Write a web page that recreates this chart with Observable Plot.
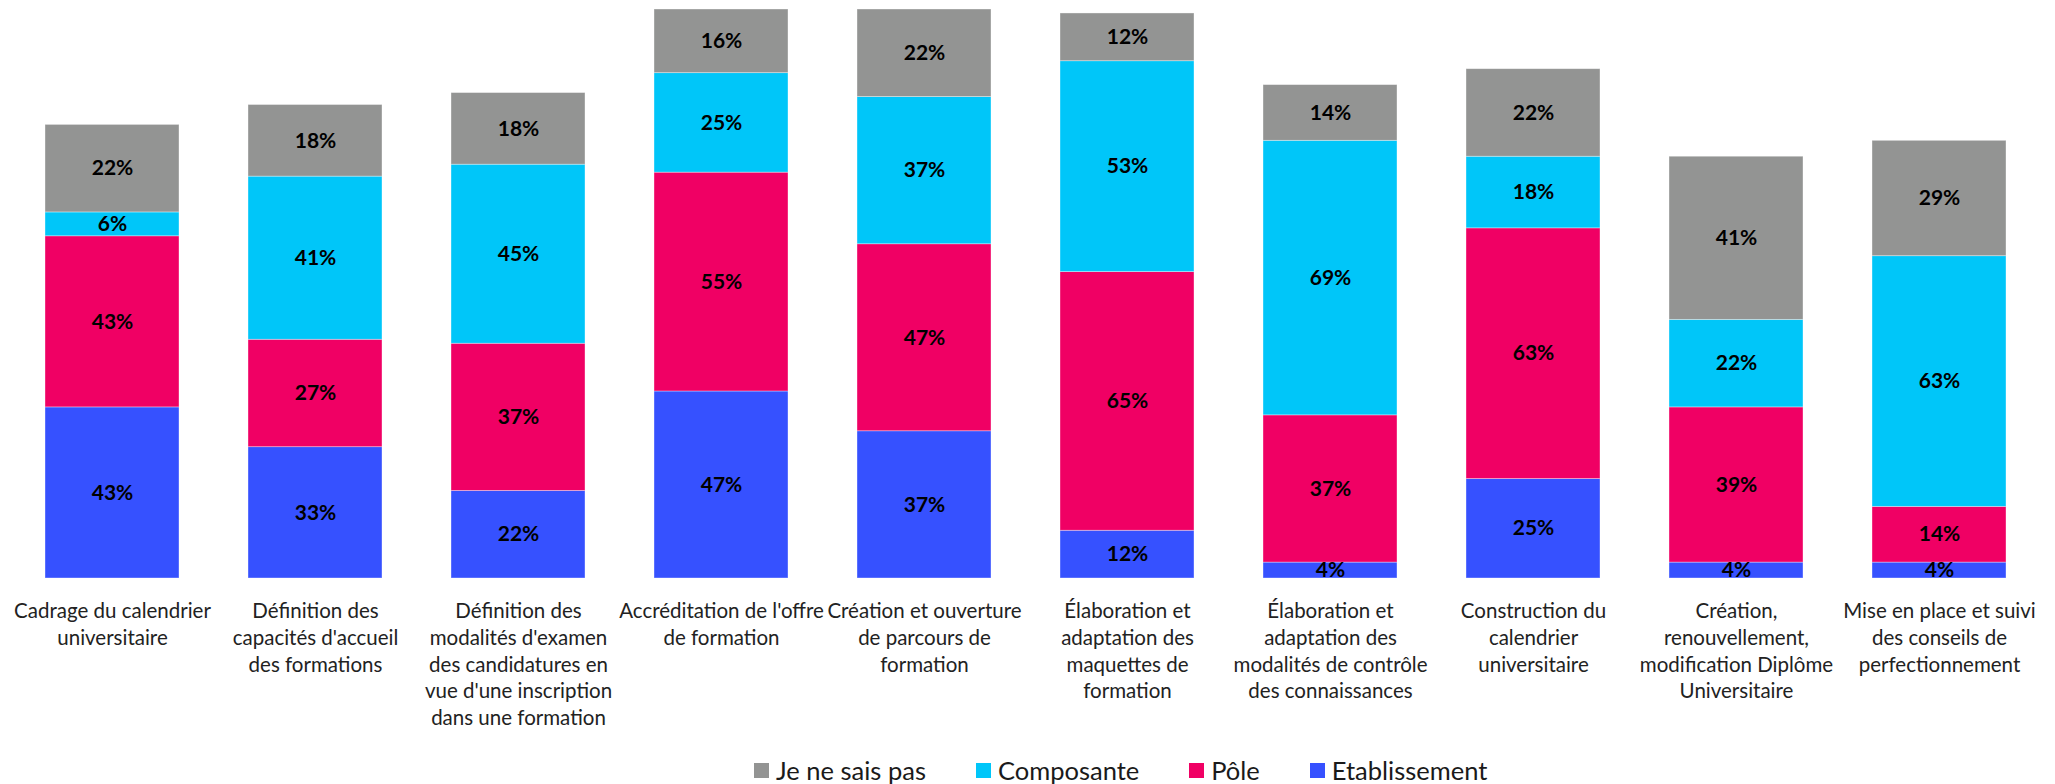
<!DOCTYPE html>
<html>
<head>
<meta charset="utf-8">
<script src="https://cdn.jsdelivr.net/npm/d3@7"></script>
<script src="https://cdn.jsdelivr.net/npm/@observablehq/plot@0.6"></script>
<style>
  html, body { margin: 0; padding: 0; background: #fff; }
  body { width: 2055px; height: 784px; position: relative; overflow: hidden; font-family: Lato, sans-serif; }
  #legend { position: absolute; left: 754px; top: 758px; height: 24px; display: flex; align-items: center; font-size: 25.5px; color: #1a1a1a; }
  #legend .item { display: flex; align-items: center; margin-right: 50px; }
  #legend .sw { width: 15px; height: 15px; margin-right: 7px; }
</style>
</head>
<body>
<div id="chart"></div>
<div id="legend"></div>
<script>
const categories = [
  "Cadrage du calendrier universitaire",
  "Définition des capacités d'accueil des formations",
  "Définition des modalités d'examen des candidatures en vue d'une inscription dans une formation",
  "Accréditation de l'offre de formation",
  "Création et ouverture de parcours de formation",
  "Élaboration et adaptation des maquettes de formation",
  "Élaboration et adaptation des modalités de contrôle des connaissances",
  "Construction du calendrier universitaire",
  "Création, renouvellement, modification Diplôme Universitaire",
  "Mise en place et suivi des conseils de perfectionnement"
];
const tickLabels = [
  "Cadrage du calendrier\nuniversitaire",
  "Définition des\ncapacités d'accueil\ndes formations",
  "Définition des\nmodalités d'examen\ndes candidatures en\nvue d'une inscription\ndans une formation",
  "Accréditation de l'offre\nde formation",
  "Création et ouverture\nde parcours de\nformation",
  "Élaboration et\nadaptation des\nmaquettes de\nformation",
  "Élaboration et\nadaptation des\nmodalités de contrôle\ndes connaissances",
  "Construction du\ncalendrier\nuniversitaire",
  "Création,\nrenouvellement,\nmodification Diplôme\nUniversitaire",
  "Mise en place et suivi\ndes conseils de\nperfectionnement"
];
const series = ["Etablissement", "Pôle", "Composante", "Je ne sais pas"];
const colors = ["#3651FF", "#F00064", "#00C6F9", "#939493"];
const etablissement = [43, 33, 22, 47, 37, 12, 4, 25, 4, 4];
const pole          = [43, 27, 37, 55, 47, 65, 37, 63, 39, 14];
const composante    = [6, 41, 45, 25, 37, 53, 69, 18, 22, 63];
const jeNeSaisPas   = [22, 18, 18, 16, 22, 12, 14, 22, 41, 29];
const legendOrder = ["Je ne sais pas", "Composante", "Pôle", "Etablissement"];

const seriesValues = [etablissement, pole, composante, jeNeSaisPas];
const data = [];
categories.forEach((c, i) => {
  series.forEach((s, j) => data.push({cat: c, series: s, value: seriesValues[j][i]}));
});
const labelOf = new Map(categories.map((c, i) => [c, tickLabels[i]]));

const chart = Plot.plot({
  width: 2055,
  height: 750,
  marginLeft: 45,
  marginRight: 48,
  marginTop: 9,
  marginBottom: 172,
  style: {fontFamily: "Lato, sans-serif", background: "#fff"},
  x: {domain: categories, paddingInner: 0.338, paddingOuter: 0, label: null},
  y: {domain: [0, 143], axis: null},
  color: {domain: series, range: colors},
  marks: [
    Plot.barY(data, Plot.stackY({x: "cat", y: "value", fill: "series", stroke: "#ffffff", strokeOpacity: 0.45, strokeWidth: 0.8})),
    Plot.text(data, Plot.stackY({x: "cat", y: "value", z: "series", text: d => d.value + "%", fill: "#000", fontWeight: "bold", fontSize: 21})),
    Plot.axisX({tickSize: 0, tickPadding: 21, fontSize: 20.5, lineHeight: 1.3, fill: "#222", tickFormat: d => labelOf.get(d), label: null})
  ]
});
document.getElementById("chart").appendChild(chart);

const legend = document.getElementById("legend");
legendOrder.forEach(s => {
  const item = document.createElement("div");
  item.className = "item";
  const sw = document.createElement("span");
  sw.className = "sw";
  sw.style.background = colors[series.indexOf(s)];
  const t = document.createElement("span");
  t.textContent = s;
  item.appendChild(sw);
  item.appendChild(t);
  legend.appendChild(item);
});
</script>
</body>
</html>
